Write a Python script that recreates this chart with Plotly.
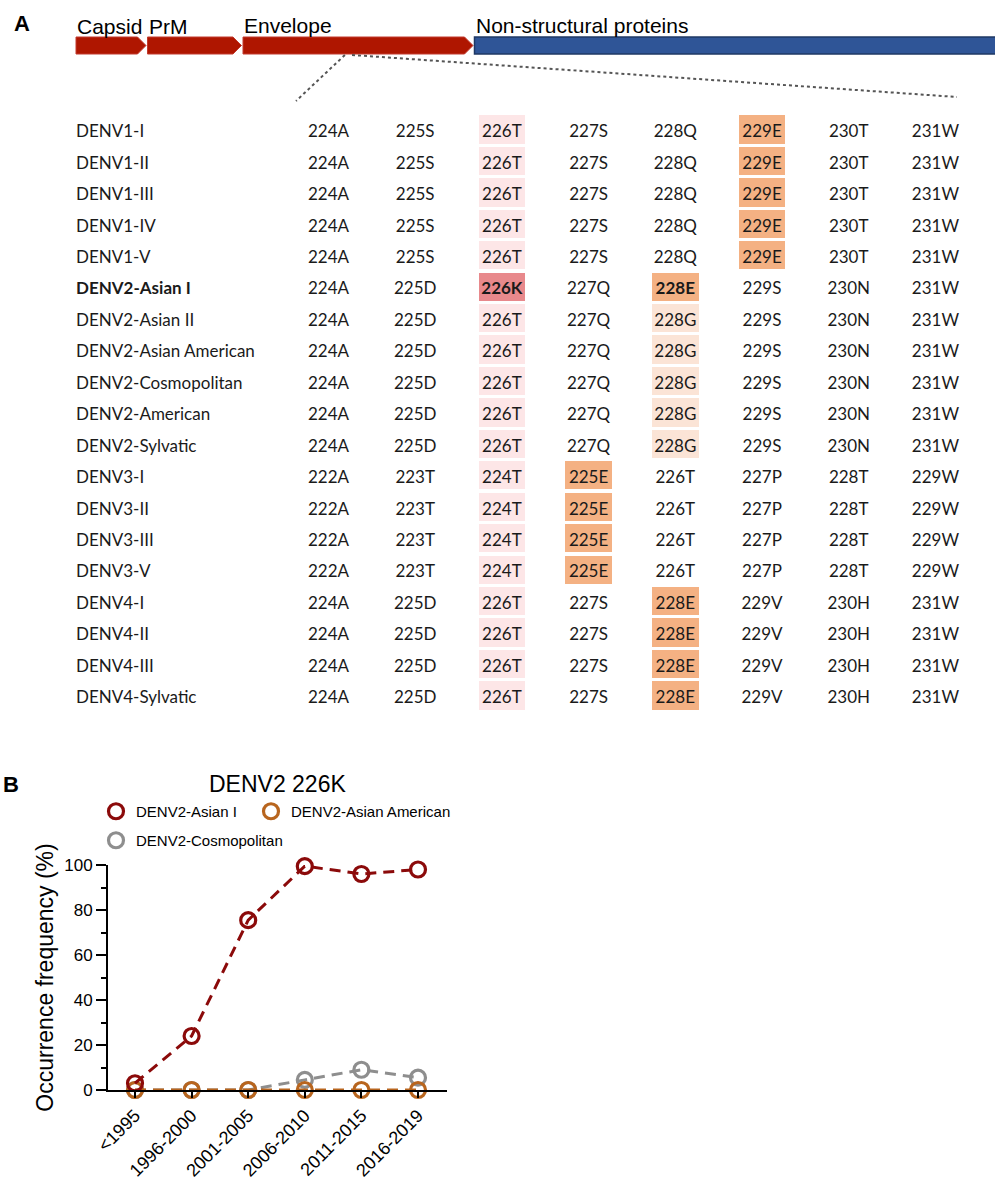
import plotly.graph_objects as go

W, H = 995, 1182

# ---------------- Panel A: genome schematic ----------------
gene_names = ["Capsid", "PrM", "Envelope", "Non-structural proteins"]
gene_lengths = [70, 94, 230, 540]          # schematic lengths
gene_is_arrow = [True, True, True, False]

# ---------------- Panel A: residue table ----------------
genotypes = [
    "DENV1-I", "DENV1-II", "DENV1-III", "DENV1-IV", "DENV1-V",
    "DENV2-Asian I", "DENV2-Asian II", "DENV2-Asian American",
    "DENV2-Cosmopolitan", "DENV2-American", "DENV2-Sylvatic",
    "DENV3-I", "DENV3-II", "DENV3-III", "DENV3-V",
    "DENV4-I", "DENV4-II", "DENV4-III", "DENV4-Sylvatic",
]
highlight_genotype = "DENV2-Asian I"

denv1_residues = ["224A", "225S", "226T", "227S", "228Q", "229E", "230T", "231W"]
denv2_residues = ["224A", "225D", "226T", "227Q", "228G", "229S", "230N", "231W"]
denv2_asian1_residues = ["224A", "225D", "226K", "227Q", "228E", "229S", "230N", "231W"]
denv3_residues = ["222A", "223T", "224T", "225E", "226T", "227P", "228T", "229W"]
denv4_residues = ["224A", "225D", "226T", "227S", "228E", "229V", "230H", "231W"]

# shade classes: 0 none, 1 conserved T, 2 K substitution, 3 glutamate, 4 glycine
denv1_shades = [0, 0, 1, 0, 0, 3, 0, 0]
denv2_shades = [0, 0, 1, 0, 4, 0, 0, 0]
denv2_asian1_shades = [0, 0, 2, 0, 3, 0, 0, 0]
denv3_shades = [0, 0, 1, 3, 0, 0, 0, 0]
denv4_shades = [0, 0, 1, 0, 3, 0, 0, 0]

row_residues = [denv1_residues] * 5 + [denv2_asian1_residues] + [denv2_residues] * 5 \
    + [denv3_residues] * 4 + [denv4_residues] * 4
row_shades = [denv1_shades] * 5 + [denv2_asian1_shades] + [denv2_shades] * 5 \
    + [denv3_shades] * 4 + [denv4_shades] * 4

shade_colors = {1: "#FDE6E7", 2: "#E8898C", 3: "#F4B183", 4: "#FBE4D6"}

# ---------------- Panel B: occurrence frequency ----------------
periods = ["<1995", "1996-2000", "2001-2005", "2006-2010", "2011-2015", "2016-2019"]
asian1_freq = [3, 24, 75.5, 99.5, 96, 98]
asian_american_freq = [0, 0, 0, 0, 0, 0]
cosmopolitan_freq = [0, 0, 0, 4.5, 9, 5.5]

RED = "#8B0A0A"
BROWN = "#B8651E"
GREY = "#8E8E8E"

TABLE_FONT = "Lato"
SANS = "Liberation Sans, Arial"
INK = "#1A1A1A"


def px_x(p):
    return p / W


def px_y(p):
    return 1 - p / H


fig = go.Figure()

# ---- table geometry (column index / row index units) ----
col0_px, col_step_px = 328.5, 86.7
row0_px, row_step_px = 133.0, 31.44
table_xrange = [-col0_px / col_step_px, (W - col0_px) / col_step_px]
table_yrange = [(H - row0_px) / row_step_px, -row0_px / row_step_px]
label_x = (76 - col0_px) / col_step_px
cell_w = 46.5 / col_step_px
cell_h = 28.3 / row_step_px
cell_shift = -3.5 / row_step_px   # boxes sit slightly above the text centre

# highlighted cells as bars
for shade, color in shade_colors.items():
    xs, bases = [], []
    for r, shades in enumerate(row_shades):
        for c, s in enumerate(shades):
            if s == shade:
                xs.append(c)
                bases.append(r - cell_h / 2 + cell_shift)
    fig.add_trace(go.Bar(
        x=xs, y=[cell_h] * len(xs), base=bases, width=cell_w,
        marker=dict(color=color, line=dict(width=0)),
        xaxis="x", yaxis="y", showlegend=False, hoverinfo="skip",
    ))

# residue labels
cx, cy, ct = [], [], []
for r, (name, residues, shades) in enumerate(zip(genotypes, row_residues, row_shades)):
    for c, (res, s) in enumerate(zip(residues, shades)):
        bold = name == highlight_genotype and s in (2, 3)
        cx.append(c)
        cy.append(r)
        ct.append(f"<b>{res}</b>" if bold else res)
fig.add_trace(go.Scatter(
    x=cx, y=cy, text=ct, mode="text", textposition="middle center",
    textfont=dict(family=TABLE_FONT, size=17, color=INK),
    xaxis="x", yaxis="y", showlegend=False, hoverinfo="skip",
))

# genotype names
fig.add_trace(go.Scatter(
    x=[label_x] * len(genotypes), y=list(range(len(genotypes))),
    text=[f"<b>{g}</b>" if g == highlight_genotype else g for g in genotypes],
    mode="text", textposition="middle right",
    textfont=dict(family=TABLE_FONT, size=17, color=INK),
    xaxis="x", yaxis="y", showlegend=False, hoverinfo="skip",
))

# ---- genome schematic (x2/y2: schematic units, y in page pixels) ----
gene_top, gene_bot, tip = 37, 54, 8.5
gap = 1.5
start = 0.0
gene_spans = []
for name, length, arrow in zip(gene_names, gene_lengths, gene_is_arrow):
    x0, x1 = start, start + length
    gene_spans.append((x0, x1))
    mid = (gene_top + gene_bot) / 2
    if arrow:
        path = (f"M {x0},{gene_top} L {x1 - tip},{gene_top} L {x1},{mid} "
                f"L {x1 - tip},{gene_bot} L {x0},{gene_bot} Z")
        fig.add_shape(type="path", path=path, xref="x2", yref="y2",
                      fillcolor="#AF1600", line=dict(color="#C23A2E", width=1), layer="above")
    else:
        fig.add_shape(type="rect", x0=x0, x1=x1, y0=gene_top, y1=gene_bot, xref="x2", yref="y2",
                      fillcolor="#2F5597", line=dict(color="#1F3864", width=1.5), layer="above")
    fig.add_annotation(x=x0, y=gene_top + 1.5, xref="x2", yref="y2", text=name, showarrow=False,
                       xanchor="left", yanchor="bottom", font=dict(family=SANS, size=21, color="black"),
                       borderpad=0)
    start = x1 + gap

# dotted zoom lines from the Envelope region to the table
env0, env1 = gene_spans[2]
env_len = env1 - env0
for frac, end_x, end_y in [(0.443, 296 - 76, 101), (0.474, 957 - 76, 97)]:
    fig.add_shape(type="line", x0=env0 + frac * env_len, y0=gene_bot + 1, x1=end_x, y1=end_y,
                  xref="x2", yref="y2", line=dict(color="#555555", width=2, dash="dot"))

# ---- Panel B traces ----
dash = "11px,7px"
for vals, color, name in [(cosmopolitan_freq, GREY, "DENV2-Cosmopolitan"),
                          (asian_american_freq, BROWN, "DENV2-Asian American"),
                          (asian1_freq, RED, "DENV2-Asian I")]:
    fig.add_trace(go.Scatter(
        x=periods, y=vals, mode="lines+markers", name=name,
        line=dict(color=color, width=3, dash=dash),
        marker=dict(symbol="circle-open", size=15, color=color, line=dict(width=3.2, color=color)),
        xaxis="x3", yaxis="y3", showlegend=False, cliponaxis=False,
    ))

# legend entries (marker only), one legend box per entry
for name, color, leg in [("DENV2-Asian I", RED, "legend"),
                         ("DENV2-Asian American", BROWN, "legend3"),
                         ("DENV2-Cosmopolitan", GREY, "legend2")]:
    fig.add_trace(go.Scatter(
        x=[None], y=[None], mode="markers", name=name, legend=leg,
        marker=dict(symbol="circle-open", size=15, color=color, line=dict(width=3.2, color=color)),
        xaxis="x3", yaxis="y3",
    ))

plot_left, plot_right = 108, 447
plot_top, plot_bottom = 865, 1090
cat_left_px, cat_step_px = 135, 56.6
x3_range = [-(cat_left_px - plot_left) / cat_step_px,
            -(cat_left_px - plot_left) / cat_step_px + (plot_right - plot_left) / cat_step_px]

hidden = dict(visible=False, showgrid=False, zeroline=False, fixedrange=True)
legend_style = dict(orientation="h", xanchor="left", yanchor="top",
                    font=dict(family=SANS, size=15, color="black"),
                    itemsizing="trace", bgcolor="rgba(0,0,0,0)")

fig.update_layout(
    width=W, height=H,
    margin=dict(l=0, r=0, t=0, b=0, autoexpand=False),
    paper_bgcolor="white", plot_bgcolor="rgba(0,0,0,0)",
    barmode="overlay", bargap=0,
    xaxis=dict(domain=[0, 1], range=table_xrange, **hidden),
    yaxis=dict(domain=[0, 1], range=table_yrange, **hidden),
    xaxis2=dict(domain=[0, 1], range=[-76, W - 76], anchor="y2", **hidden),
    yaxis2=dict(domain=[0, 1], range=[H, 0], anchor="x2", **hidden),
    xaxis3=dict(
        domain=[px_x(plot_left), px_x(plot_right)], anchor="y3",
        type="category", range=x3_range,
        showline=True, linecolor="black", linewidth=2,
        ticks="outside", ticklen=6, tickwidth=2, tickcolor="black",
        tickangle=-45, tickfont=dict(family=SANS, size=18, color="black"),
        showgrid=False, zeroline=False, automargin=False,
    ),
    yaxis3=dict(
        domain=[px_y(plot_bottom), px_y(plot_top)], anchor="x3",
        range=[0, 100], tickvals=[0, 20, 40, 60, 80, 100],
        showline=True, linecolor="black", linewidth=2,
        ticks="outside", ticklen=10, tickwidth=2, tickcolor="black",
        minor=dict(dtick=10, ticks="outside", ticklen=5, tickwidth=2, tickcolor="black"),
        tickfont=dict(family=SANS, size=17, color="black"),
        title=dict(text="Occurrence frequency (%)", font=dict(family=SANS, size=23, color="black"),
                   standoff=4),
        showgrid=False, zeroline=False, automargin=False,
    ),
    legend=dict(x=px_x(96), y=px_y(795), **legend_style),
    legend3=dict(x=px_x(251), y=px_y(795), **legend_style),
    legend2=dict(x=px_x(96), y=px_y(824), **legend_style),
    annotations=list(fig.layout.annotations) + [
        dict(text="<b>A</b>", x=px_x(22), y=px_y(24), xref="paper", yref="paper", showarrow=False,
             xanchor="center", yanchor="middle", font=dict(family=SANS, size=22, color="black")),
        dict(text="<b>B</b>", x=px_x(11), y=px_y(784), xref="paper", yref="paper", showarrow=False,
             xanchor="center", yanchor="middle", font=dict(family=SANS, size=22, color="black")),
        dict(text="DENV2 226K", x=px_x(277), y=px_y(784), xref="paper", yref="paper", showarrow=False,
             xanchor="center", yanchor="middle", font=dict(family=SANS, size=23, color="black")),
    ],
)

fig.write_html("out.html")
